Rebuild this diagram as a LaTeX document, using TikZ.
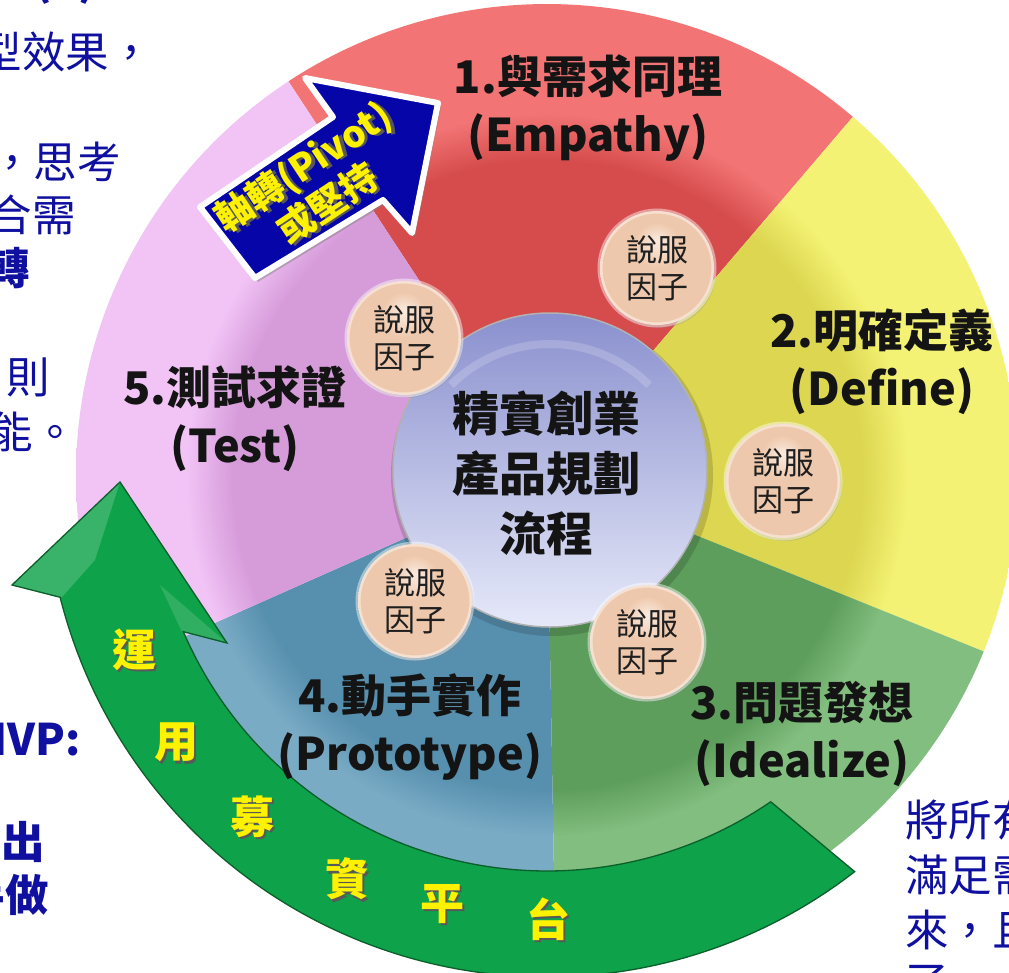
\documentclass[tikz,border=0pt]{standalone}
\usepackage{fontspec}
\setmainfont{Noto Sans CJK TC}
\usetikzlibrary{calc,shadows}

\definecolor{navy}{RGB}{16,16,160}
\definecolor{redIn}{HTML}{D64C4C}
\definecolor{redMid}{HTML}{F27474}
\definecolor{redRim}{HTML}{C84646}
\definecolor{yelIn}{HTML}{DCD650}
\definecolor{yelMid}{HTML}{F4F274}
\definecolor{yelRim}{HTML}{CFCB45}
\definecolor{grnIn}{HTML}{5E9E5C}
\definecolor{grnMid}{HTML}{82BE7F}
\definecolor{grnRim}{HTML}{5A965A}
\definecolor{bluIn}{HTML}{5790AE}
\definecolor{bluMid}{HTML}{7AABC5}
\definecolor{bluRim}{HTML}{5E8BA8}
\definecolor{pnkIn}{HTML}{D69CDA}
\definecolor{pnkMid}{HTML}{F2C4F6}
\definecolor{pnkRim}{HTML}{C898CF}
\definecolor{pchHi}{HTML}{FAEBE0}
\definecolor{pchMid}{HTML}{EEC8AC}
\definecolor{pchEdge}{HTML}{C9967A}
\definecolor{gaDark}{HTML}{0EA24A}
\definecolor{gaMid}{HTML}{12AF54}
\definecolor{gaLight}{HTML}{40D480}
\definecolor{gaLine}{HTML}{0A5F2A}
\definecolor{pivBlue}{HTML}{0505A8}
\definecolor{ctrTop}{HTML}{8A90CE}
\definecolor{ctrMid}{HTML}{CBD0F0}
\definecolor{ctrBot}{HTML}{E6E9F9}

\newcommand{\mysectorshading}[4]{%
  \pgfdeclareradialshading{#1}{\pgfpoint{0bp}{0bp}}{color(0bp)=(#2);color(16.7bp)=(#2);color(19.2bp)=(#3);color(44bp)=(#3);color(48.5bp)=(#4!70!#3);color(50bp)=(#4)}}
\mysectorshading{redsec}{redIn}{redMid}{redRim}
\mysectorshading{yelsec}{yelIn}{yelMid}{yelRim}
\mysectorshading{grnsec}{grnIn}{grnMid}{grnRim}
\mysectorshading{blusec}{bluIn}{bluMid}{bluRim}
\mysectorshading{pnksec}{pnkIn}{pnkMid}{pnkRim}
\pgfdeclareradialshading{peachball}{\pgfpoint{0bp}{12bp}}{color(0bp)=(pchHi);color(10bp)=(pchMid);color(34bp)=(pchMid);color(52bp)=(pchEdge);color(62bp)=(pchEdge)}
\pgfdeclareradialshading{greenarc}{\pgfpoint{0bp}{0bp}}{color(0bp)=(gaDark);color(35bp)=(gaDark);color(39bp)=(gaMid);color(42.5bp)=(gaMid);color(44.5bp)=(gaLight);color(50bp)=(gaMid)}

\newcommand{\mysector}[3]{%
  \begin{scope}
    \clip (O) -- ($(O)+(#1:471)$) arc[start angle=#1, end angle=#2, radius=471] -- cycle;
    \shade[shading=#3] (O) circle (471);
  \end{scope}}
\newcommand{\shtxt}[1]{\makebox[0pt][l]{\hspace{2.5pt}\raisebox{-2.5pt}{\textcolor{black!65}{#1}}}#1}

\begin{document}
\begin{tikzpicture}[x=1pt,y=-1pt,
  lbl/.style={font=\bfseries\fontsize{45}{58}\selectfont, text=black!92, align=center, inner sep=0},
  ctrtxt/.style={font=\bfseries\fontsize{47}{60}\selectfont, text=black!92, align=center, inner sep=0},
  persuade/.style={circle, minimum size=114, inner sep=0, shade, shading=peachball,
     draw=white, draw opacity=0.45, line width=5,
     drop shadow={shadow xshift=2pt, shadow yshift=-3pt, opacity=0.25},
     font=\fontsize{31}{37}\selectfont, align=center, text=black!88},
  fundtxt/.style={font=\bfseries\fontsize{44}{44}\selectfont, text=yellow, inner sep=0},
  sidetxt/.style={font=\fontsize{43.5}{55}\selectfont, text=navy, inner sep=0},
  sidebold/.style={font=\bfseries\fontsize{43.5}{55}\selectfont, text=navy, inner sep=0}]

\useasboundingbox (0,0) rectangle (1009,972);
\clip (0,0) rectangle (1009,972);
\fill[white] (0,0) rectangle (1009,972);
\coordinate (O) at (547,475);

% ring sectors
\mysector{-123.3}{-49.5}{redsec}
\mysector{-49.5}{22}{yelsec}
\mysector{22}{89}{grnsec}
\mysector{89}{156}{blusec}
\mysector{156}{236.7}{pnksec}

% centre disc
\coordinate (C) at (550,470);
\fill[black, opacity=0.15] ($(C)+(2,5)$) circle (161);
\shade[top color=ctrTop, middle color=ctrMid, bottom color=ctrBot] (C) circle (157);
\draw[white, opacity=0.18, line width=8] ($(C)+(0,14)$) ++(-45:140) arc[start angle=-45, end angle=-135, radius=140];
\draw[black!30, line width=1.5] (C) circle (157);
\node[ctrtxt] (ctr) at (546,473) {精實創業\\產品規劃\\流程};

% persuasion factors
\node[persuade] (f1) at (657,268) {說服\\因子};
\node[persuade] (f2) at (404,338) {說服\\因子};
\node[persuade] (f3) at (783,481) {說服\\因子};
\node[persuade] (f4) at (647,642) {說服\\因子};
\node[persuade] (f5) at (415,601) {說服\\因子};

% pivot arrow
\path[draw=white, line width=6, line join=round, fill=pivBlue,
      drop shadow={shadow xshift=3pt, shadow yshift=-4pt, opacity=0.45}]
  (200,207) -- (333,117) -- (305,78) -- (438,103) -- (412,233) -- (383,200) -- (255,278) -- cycle;
\node[font=\bfseries\fontsize{37}{44}\selectfont, text=yellow, align=center, rotate=33.5, inner sep=0]
  (pivot) at (316,186) {\shtxt{軸轉(Pivot)}\\\shtxt{或堅持}};

% green curved arrow
\begin{scope}
  \clip ($(O)+(52.2:502)$) arc[start angle=52.2, end angle=165.9, radius=502]
     -- (12,585) -- (120,482) -- (227,643) -- ($(O)+(156.7:396)$)
     arc[start angle=156.7, end angle=55.6, radius=396] -- cycle;
  \shade[shading=greenarc] (O) circle (560);
  \fill[white, opacity=0.18] (12,585) -- (120,482) -- (95,560) -- (62,597) -- cycle;
  \fill[white, opacity=0.14] (227,643) -- (160,585) -- (182,632) -- cycle;
\end{scope}
\draw[gaLine, line width=1.3, line join=miter]
  ($(O)+(52.2:502)$) arc[start angle=52.2, end angle=165.9, radius=502]
     -- (12,585) -- (120,482) -- (227,643) -- ($(O)+(156.7:396)$)
     arc[start angle=156.7, end angle=55.6, radius=396] -- cycle;

\node[fundtxt] (g1) at (134,651) {\shtxt{運}};
\node[fundtxt] (g2) at (176,744) {\shtxt{用}};
\node[fundtxt] (g3) at (252,818) {\shtxt{募}};
\node[fundtxt] (g4) at (347,880) {\shtxt{資}};
\node[fundtxt] (g5) at (442,905) {\shtxt{平}};
\node[fundtxt] (g6) at (548,920) {\shtxt{台}};

% stage labels
\node[lbl] (s1) at (588,108) {1.與需求同理\\(Empathy)};
\node[lbl] (s2) at (882,362) {2.明確定義\\(Define)};
\node[lbl] (s3) at (802,734) {3.問題發想\\(Idealize)};
\node[lbl] (s4) at (410,727) {4.動手實作\\(Prototype)};
\node[lbl] (s5) at (235,419) {5.測試求證\\(Test)};

% side texts (cut by the frame)
\node[sidebold, anchor=east] (t0) at (96,-18) {(2)};
\node[sidetxt, anchor=east] (t1) at (153,52) {型效果，};
\node[sidetxt, anchor=east] (t2) at (121,162) {，思考};
\node[sidetxt, anchor=east] (t3) at (76,215) {合需};
\node[sidebold, anchor=east] (t4) at (30,268) {轉};
\node[sidetxt, anchor=east] (t5) at (50,377) {則};
\node[sidetxt, anchor=east] (t6) at (77,432) {能。};
\node[sidebold, anchor=east] (t7) at (81,740) {MVP:};
\node[sidebold, anchor=east] (t8) at (45,842) {出};
\node[sidebold, anchor=east] (t9) at (49,895) {手做};
\node[sidetxt, anchor=west] (r1) at (905,820) {將所有};
\node[sidetxt, anchor=west] (r2) at (905,875) {滿足需};
\node[sidetxt, anchor=west] (r3) at (905,930) {來，且};
\node[sidetxt, anchor=west] (r4) at (905,984) {了};
\end{tikzpicture}
\end{document}
